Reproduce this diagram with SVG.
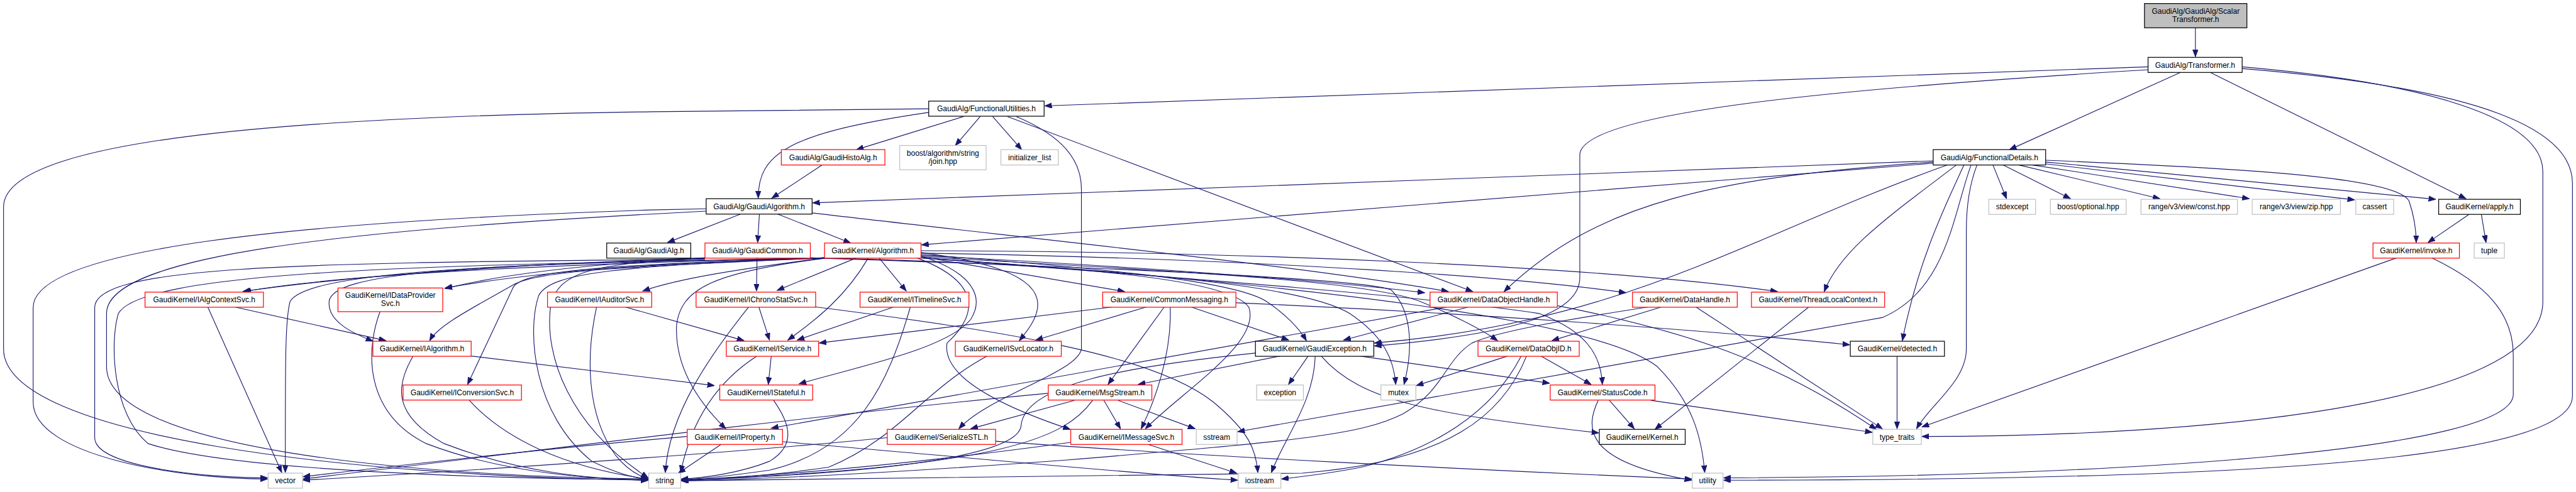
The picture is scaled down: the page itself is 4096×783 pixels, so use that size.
<svg xmlns="http://www.w3.org/2000/svg" width="4096" height="783" viewBox="0 0 4096 783">
<style>
.e{fill:none;stroke:#191970;stroke-width:1.2;marker-end:url(#a)}
rect{stroke-width:1.3}
.r{fill:#fff;stroke:#ff0000}
.k{fill:#fff;stroke:#000}
.g{fill:#fff;stroke:#bfbfbf}
.s{fill:#bfbfbf;stroke:#000}
text{font-family:"Liberation Sans",Arial,Helvetica,sans-serif;font-size:12.8px;text-anchor:middle;fill:#000}
</style>
<defs>
<marker id="a" markerWidth="14" markerHeight="10" refX="12" refY="4.5" orient="auto" markerUnits="userSpaceOnUse"><path d="M0,0 L12,4.5 L0,9 z" fill="#191970" stroke="#191970" stroke-width="1"/></marker>
</defs>
<rect x="0" y="0" width="4096" height="783" fill="#fff" stroke="none"/>
<g transform="scale(0.941176)">
<g id="edges">
<path class="e" d="M3709,47 L3709,96"/>
<path class="e" d="M3629,113 L1765,179"/>
<path class="e" d="M3685,122 L3395,253"/>
<path class="e" d="M3733,122 L4166,336"/>
<path class="e" d="M3629,118 C3100,150 2669,190 2669,262 L2669,470 C2669,530 2560,565 2322,585"/>
<path class="e" d="M3788,113 C4100,140 4296,200 4296,290 L4296,510 C4296,690 3700,738 3247,738"/>
<path class="e" d="M3788,116 C4200,150 4346,220 4346,310 L4346,670 C4346,790 3650,812 2912,812"/>
<path class="e" d="M1569,190 C1330,225 1281,260 1281,335"/>
<path class="e" d="M1628,197 L1447,253"/>
<path class="e" d="M1656,197 L1614,246"/>
<path class="e" d="M1677,197 L1726,253"/>
<path class="e" d="M1702,197 L2488,493"/>
<path class="e" d="M1717,197 C1795,230 1827,270 1827,320 L1827,590 C1820,630 1670,670 1620,725"/>
<path class="e" d="M1569,184 L1100,189 C300,200 6,260 6,350 L6,590 C6,740 600,805 1095,812"/>
<path class="e" d="M1389,279 L1304,335"/>
<path class="e" d="M3266,272 L1373,343"/>
<path class="e" d="M3266,276 L1557,414"/>
<path class="e" d="M3266,274 C2900,300 2700,340 2541,493"/>
<path class="e" d="M3290,279 C2950,400 2750,545 2322,580"/>
<path class="e" d="M3305,279 C3200,360 3110,420 3082,493"/>
<path class="e" d="M3318,279 C3290,340 3240,440 3214,576"/>
<path class="e" d="M3330,279 C3300,360 3290,490 3180,537 L2091,730"/>
<path class="e" d="M3340,279 C3328,310 3322,350 3322,390 L3322,590 C3322,645 3260,685 3238,725"/>
<path class="e" d="M3367,279 L3390,336"/>
<path class="e" d="M3384,279 L3498,336"/>
<path class="e" d="M3411,279 L3649,336"/>
<path class="e" d="M3434,279 L3800,336"/>
<path class="e" d="M3456,277 L3978,338"/>
<path class="e" d="M3456,274 L4115,337"/>
<path class="e" d="M3456,271 C3800,285 4050,300 4070,340 C4080,370 4082,390 4082,410"/>
<path class="e" d="M4172,362 L4102,410"/>
<path class="e" d="M4192,362 L4200,410"/>
<path class="e" d="M4049,436 L3247,722"/>
<path class="e" d="M4108,436 C4200,480 4246,530 4246,600 L4246,667 C4246,760 3600,806 2912,808"/>
<path class="e" d="M1251,362 L1128,410"/>
<path class="e" d="M1283,362 L1280,410"/>
<path class="e" d="M1314,362 L1437,411"/>
<path class="e" d="M1193,353 L1100,355 C500,375 56,420 56,520 L56,680 C56,770 300,810 452,810"/>
<path class="e" d="M1193,357 L1100,362 C600,390 180,430 180,530 L180,620 C180,760 700,805 1095,810"/>
<path class="e" d="M1372,360 C1800,410 2200,450 2447,493"/>
<path class="e" d="M1393,436 C1000,445 600,460 412,493"/>
<path class="e" d="M1191,436 C900,446 600,465 410,493"/>
<path class="e" d="M1393,436 C1100,445 900,460 752,487"/>
<path class="e" d="M1191,436 C1000,446 850,463 752,488"/>
<path class="e" d="M1393,436 C1250,455 1150,470 1086,492"/>
<path class="e" d="M1191,438 C800,450 560,460 556,510 C553,545 600,565 630,577"/>
<path class="e" d="M1393,436 C1100,450 920,455 870,480 C800,520 740,550 726,576"/>
<path class="e" d="M396,519 L652,576"/>
<path class="e" d="M1393,436 C1000,448 875,460 866,488 L790,650"/>
<path class="e" d="M1393,436 C900,445 520,455 490,510 C482,540 482,600 482,799"/>
<path class="e" d="M1191,437 L1100,439 C500,445 160,450 160,520 L160,740 C160,790 350,808 452,808"/>
<path class="e" d="M1191,440 C700,450 240,460 200,530 C185,580 190,700 250,750 C400,800 900,810 1095,811"/>
<path class="e" d="M1393,436 C1050,450 930,460 910,500 C890,560 900,700 1000,780 C1040,800 1070,808 1095,811"/>
<path class="e" d="M351,519 L476,799"/>
<path class="e" d="M642,527 C615,600 620,700 720,750 C850,800 1000,810 1095,812"/>
<path class="e" d="M698,602 C670,650 660,700 750,750 C880,800 1000,810 1095,812"/>
<path class="e" d="M796,602 L1207,652"/>
<path class="e" d="M793,677 C850,740 950,790 1095,810"/>
<path class="e" d="M1008,519 C990,600 990,700 1040,770 C1060,795 1080,805 1095,810"/>
<path class="e" d="M1056,519 L1257,576"/>
<path class="e" d="M1191,437 C1000,445 940,460 930,520 C920,600 960,720 1095,808"/>
<path class="e" d="M1161,738 C900,760 650,790 512,806"/>
<path class="e" d="M1771,665 C1400,700 1000,750 512,810"/>
<path class="e" d="M1499,740 C1300,760 900,790 512,812"/>
<path class="e" d="M1265,519 C1200,600 1130,700 1124,799"/>
<path class="e" d="M1279,602 C1220,640 1170,700 1150,799"/>
<path class="e" d="M1307,677 C1330,710 1350,750 1300,780 C1250,800 1190,808 1151,810"/>
<path class="e" d="M1538,519 C1500,650 1450,760 1300,795 C1230,805 1180,810 1151,811"/>
<path class="e" d="M1219,751 L1146,800"/>
<path class="e" d="M1846,677 C1800,740 1700,790 1151,812"/>
<path class="e" d="M1809,748 C1500,790 1300,805 1151,812"/>
<path class="e" d="M2121,597 C1900,620 1730,650 1725,720 C1720,770 1500,800 1151,812"/>
<path class="e" d="M2579,602 C2540,700 2450,780 2200,800 C1800,808 1400,812 1151,813"/>
<path class="e" d="M2570,602 C2520,700 2420,760 2300,790 C2250,800 2200,806 2165,810"/>
<path class="e" d="M1447,436 L1313,491"/>
<path class="e" d="M1279,436 L1278,492"/>
<path class="e" d="M1485,436 L1531,492"/>
<path class="e" d="M1467,436 C1430,500 1380,540 1331,575"/>
<path class="e" d="M1282,519 L1300,575"/>
<path class="e" d="M1510,519 L1347,575"/>
<path class="e" d="M1880,519 L1384,580"/>
<path class="e" d="M1303,602 L1298,650"/>
<path class="e" d="M1556,433 C1640,460 1665,500 1640,540 C1600,590 1450,620 1350,649"/>
<path class="e" d="M1549,436 C1640,470 1665,520 1600,580 C1590,640 1700,690 1808,726"/>
<path class="e" d="M1556,427 C1650,440 1740,460 1752,505 C1758,530 1740,555 1722,576"/>
<path class="e" d="M1556,434 L1900,493"/>
<path class="e" d="M1937,519 L1750,575"/>
<path class="e" d="M1967,519 L1872,650"/>
<path class="e" d="M1977,519 C1980,600 1950,680 1928,725"/>
<path class="e" d="M2012,519 L2177,575"/>
<path class="e" d="M2088,512 C2500,530 2900,560 3125,583"/>
<path class="e" d="M2163,602 L1923,650"/>
<path class="e" d="M2210,602 L2177,650"/>
<path class="e" d="M2222,602 C2220,680 2170,740 2148,799"/>
<path class="e" d="M2232,602 C2300,680 2420,700 2701,732"/>
<path class="e" d="M2297,602 L2618,648"/>
<path class="e" d="M1865,677 L1893,725"/>
<path class="e" d="M1815,677 L1640,725"/>
<path class="e" d="M1889,677 L2019,725"/>
<path class="e" d="M1938,751 L2089,800"/>
<path class="e" d="M1322,747 C1600,770 1900,800 2091,812"/>
<path class="e" d="M1682,746 C2000,770 2500,795 2858,810"/>
<path class="e" d="M1668,602 C1560,660 1520,740 1400,790 C1300,805 1200,810 1151,812"/>
<path class="e" d="M2719,677 L2761,725"/>
<path class="e" d="M2700,677 C2680,720 2670,780 2858,812"/>
<path class="e" d="M2789,677 L3163,731"/>
<path class="e" d="M2547,602 L2393,652"/>
<path class="e" d="M2603,602 L2688,650"/>
<path class="e" d="M2481,519 L2270,575"/>
<path class="e" d="M2445,519 L1303,724"/>
<path class="e" d="M2632,517 C2850,560 3000,610 3170,726"/>
<path class="e" d="M2865,519 L3180,725"/>
<path class="e" d="M2807,519 L2622,576"/>
<path class="e" d="M2785,519 C2650,540 2530,560 2487,580 C2440,610 2440,660 2370,700 C2300,735 2200,745 1800,778 C1500,800 1300,810 1151,813"/>
<path class="e" d="M3056,519 L2796,726"/>
<path class="e" d="M3205,602 L3205,725"/>
<path class="e" d="M1556,436 C1900,460 2200,480 2280,530 C2340,570 2355,610 2358,650"/>
<path class="e" d="M1369,436 C1800,450 2300,470 2350,490 C2390,530 2385,600 2372,650"/>
<path class="e" d="M1556,430 C1800,450 2080,470 2140,510 C2170,530 2195,555 2207,576"/>
<path class="e" d="M1556,432 C1900,450 2200,470 2407,495"/>
<path class="e" d="M1556,434 C1900,455 2300,470 2400,510 C2460,535 2500,555 2530,576"/>
<path class="e" d="M1556,436 C2000,470 2400,500 2600,530 C2680,560 2705,600 2707,650"/>
<path class="e" d="M1556,436 C2200,480 2700,540 2800,620 C2860,680 2875,740 2880,799"/>
<path class="e" d="M1556,428 C2000,435 2500,460 2747,495"/>
<path class="e" d="M1556,424 C2100,425 2700,450 3003,493"/>
<path class="e" d="M1369,436 C1800,445 2080,470 2110,520 C2130,580 2000,660 1935,725"/>
<path class="e" d="M1370,518 C1700,560 1950,600 2050,680 C2110,730 2122,760 2125,799"/>
<path class="e" d="M1400,436 C1200,460 1150,490 1143,550 C1140,620 1180,680 1226,725"/>
</g>
<g id="n0"><rect class="s" x="3623" y="6" width="173" height="41"/><text x="3709.5" y="23.3">GaudiAlg/GaudiAlg/Scalar</text><text x="3709.5" y="37">Transformer.h</text></g>
<g id="n1"><rect class="k" x="3629" y="97" width="159" height="25.5"/><text x="3708.5" y="114.3">GaudiAlg/Transformer.h</text></g>
<g id="n2"><rect class="k" x="1569" y="171" width="195" height="25.5"/><text x="1666.5" y="188.3">GaudiAlg/FunctionalUtilities.h</text></g>
<g id="n3"><rect class="k" x="3266" y="253" width="190" height="26"/><text x="3361" y="270.5">GaudiAlg/FunctionalDetails.h</text></g>
<g id="n4"><rect class="r" x="1320" y="253" width="175" height="26"/><text x="1407.5" y="270.5">GaudiAlg/GaudiHistoAlg.h</text></g>
<g id="n5"><rect class="g" x="1520" y="246" width="146" height="41"/><text x="1593" y="263.3">boost/algorithm/string</text><text x="1593" y="277">/join.hpp</text></g>
<g id="n6"><rect class="g" x="1691" y="253" width="97" height="26"/><text x="1739.5" y="270.5">initializer_list</text></g>
<g id="n7"><rect class="k" x="1193" y="336" width="179" height="26"/><text x="1282.5" y="353.5">GaudiAlg/GaudiAlgorithm.h</text></g>
<g id="n8"><rect class="g" x="3360" y="337" width="79" height="25.5"/><text x="3399.5" y="354.3">stdexcept</text></g>
<g id="n9"><rect class="g" x="3464" y="337" width="128" height="25.5"/><text x="3528" y="354.3">boost/optional.hpp</text></g>
<g id="n10"><rect class="g" x="3617" y="337" width="163" height="25.5"/><text x="3698.5" y="354.3">range/v3/view/const.hpp</text></g>
<g id="n11"><rect class="g" x="3805" y="337" width="149" height="25.5"/><text x="3879.5" y="354.3">range/v3/view/zip.hpp</text></g>
<g id="n12"><rect class="g" x="3980" y="337" width="64" height="25.5"/><text x="4012" y="354.3">cassert</text></g>
<g id="n13"><rect class="k" x="4120" y="337" width="138" height="25.5"/><text x="4189" y="354.3">GaudiKernel/apply.h</text></g>
<g id="n14"><rect class="k" x="1025" y="411" width="142" height="25.5"/><text x="1096" y="428.3">GaudiAlg/GaudiAlg.h</text></g>
<g id="n15"><rect class="r" x="1191" y="411" width="178" height="25.5"/><text x="1280" y="428.3">GaudiAlg/GaudiCommon.h</text></g>
<g id="n16"><rect class="r" x="1393" y="411" width="163" height="25.5"/><text x="1474.5" y="428.3">GaudiKernel/Algorithm.h</text></g>
<g id="n17"><rect class="r" x="4009" y="411" width="146" height="25.5"/><text x="4082" y="428.3">GaudiKernel/invoke.h</text></g>
<g id="n18"><rect class="g" x="4180" y="411" width="51" height="25.5"/><text x="4205.5" y="428.3">tuple</text></g>
<g id="n19"><rect class="r" x="245" y="494" width="200" height="25.5"/><text x="345" y="511.3">GaudiKernel/IAlgContextSvc.h</text></g>
<g id="n20"><rect class="r" x="571" y="487" width="177" height="40"/><text x="659.5" y="504">GaudiKernel/IDataProvider</text><text x="659.5" y="517.5">Svc.h</text></g>
<g id="n21"><rect class="r" x="925" y="494" width="176" height="25.5"/><text x="1013" y="511.3">GaudiKernel/IAuditorSvc.h</text></g>
<g id="n22"><rect class="r" x="1176" y="494" width="202" height="25.5"/><text x="1277" y="511.3">GaudiKernel/IChronoStatSvc.h</text></g>
<g id="n23"><rect class="r" x="1453" y="494" width="184" height="25.5"/><text x="1545" y="511.3">GaudiKernel/ITimelineSvc.h</text></g>
<g id="n24"><rect class="r" x="1863" y="494" width="225" height="25.5"/><text x="1975.5" y="511.3">GaudiKernel/CommonMessaging.h</text></g>
<g id="n25"><rect class="r" x="2416" y="494" width="215" height="25.5"/><text x="2523.5" y="511.3">GaudiKernel/DataObjectHandle.h</text></g>
<g id="n26"><rect class="r" x="2758" y="494" width="177" height="25.5"/><text x="2846.5" y="511.3">GaudiKernel/DataHandle.h</text></g>
<g id="n27"><rect class="r" x="2959" y="494" width="225" height="25.5"/><text x="3071.5" y="511.3">GaudiKernel/ThreadLocalContext.h</text></g>
<g id="n28"><rect class="r" x="630" y="577" width="166" height="25.5"/><text x="713" y="594.3">GaudiKernel/IAlgorithm.h</text></g>
<g id="n29"><rect class="r" x="1227" y="577" width="156" height="25.5"/><text x="1305" y="594.3">GaudiKernel/IService.h</text></g>
<g id="n30"><rect class="r" x="1614" y="577" width="179" height="25.5"/><text x="1703.5" y="594.3">GaudiKernel/ISvcLocator.h</text></g>
<g id="n31"><rect class="k" x="2121" y="577" width="200" height="25.5"/><text x="2221" y="594.3">GaudiKernel/GaudiException.h</text></g>
<g id="n32"><rect class="r" x="2497" y="577" width="171" height="25.5"/><text x="2582.5" y="594.3">GaudiKernel/DataObjID.h</text></g>
<g id="n33"><rect class="k" x="3126" y="577" width="159" height="25.5"/><text x="3205.5" y="594.3">GaudiKernel/detected.h</text></g>
<g id="n34"><rect class="r" x="681" y="651" width="200" height="25.5"/><text x="781" y="668.3">GaudiKernel/IConversionSvc.h</text></g>
<g id="n35"><rect class="r" x="1216" y="651" width="157" height="25.5"/><text x="1294.5" y="668.3">GaudiKernel/IStateful.h</text></g>
<g id="n36"><rect class="r" x="1771" y="651" width="175" height="25.5"/><text x="1858.5" y="668.3">GaudiKernel/MsgStream.h</text></g>
<g id="n37"><rect class="g" x="2123" y="651" width="79" height="25.5"/><text x="2162.5" y="668.3">exception</text></g>
<g id="n38"><rect class="g" x="2333" y="651" width="59" height="25.5"/><text x="2362.5" y="668.3">mutex</text></g>
<g id="n39"><rect class="r" x="2619" y="651" width="177" height="25.5"/><text x="2707.5" y="668.3">GaudiKernel/StatusCode.h</text></g>
<g id="n40"><rect class="r" x="1161" y="726" width="161" height="25.5"/><text x="1241.5" y="743.3">GaudiKernel/IProperty.h</text></g>
<g id="n41"><rect class="r" x="1499" y="726" width="183" height="25.5"/><text x="1590.5" y="743.3">GaudiKernel/SerializeSTL.h</text></g>
<g id="n42"><rect class="r" x="1809" y="726" width="188" height="25.5"/><text x="1903" y="743.3">GaudiKernel/IMessageSvc.h</text></g>
<g id="n43"><rect class="g" x="2021" y="726" width="69" height="25.5"/><text x="2055.5" y="743.3">sstream</text></g>
<g id="n44"><rect class="k" x="2702" y="726" width="145" height="25.5"/><text x="2774.5" y="743.3">GaudiKernel/Kernel.h</text></g>
<g id="n45"><rect class="g" x="3164" y="726" width="82" height="25.5"/><text x="3205" y="743.3">type_traits</text></g>
<g id="n46"><rect class="g" x="453" y="800" width="58" height="25.5"/><text x="482" y="817.3">vector</text></g>
<g id="n47"><rect class="g" x="1096" y="800" width="54" height="25.5"/><text x="1123" y="817.3">string</text></g>
<g id="n48"><rect class="g" x="2092" y="800" width="72" height="25.5"/><text x="2128" y="817.3">iostream</text></g>
<g id="n49"><rect class="g" x="2859" y="800" width="52" height="25.5"/><text x="2885" y="817.3">utility</text></g>
</g>
</svg>
